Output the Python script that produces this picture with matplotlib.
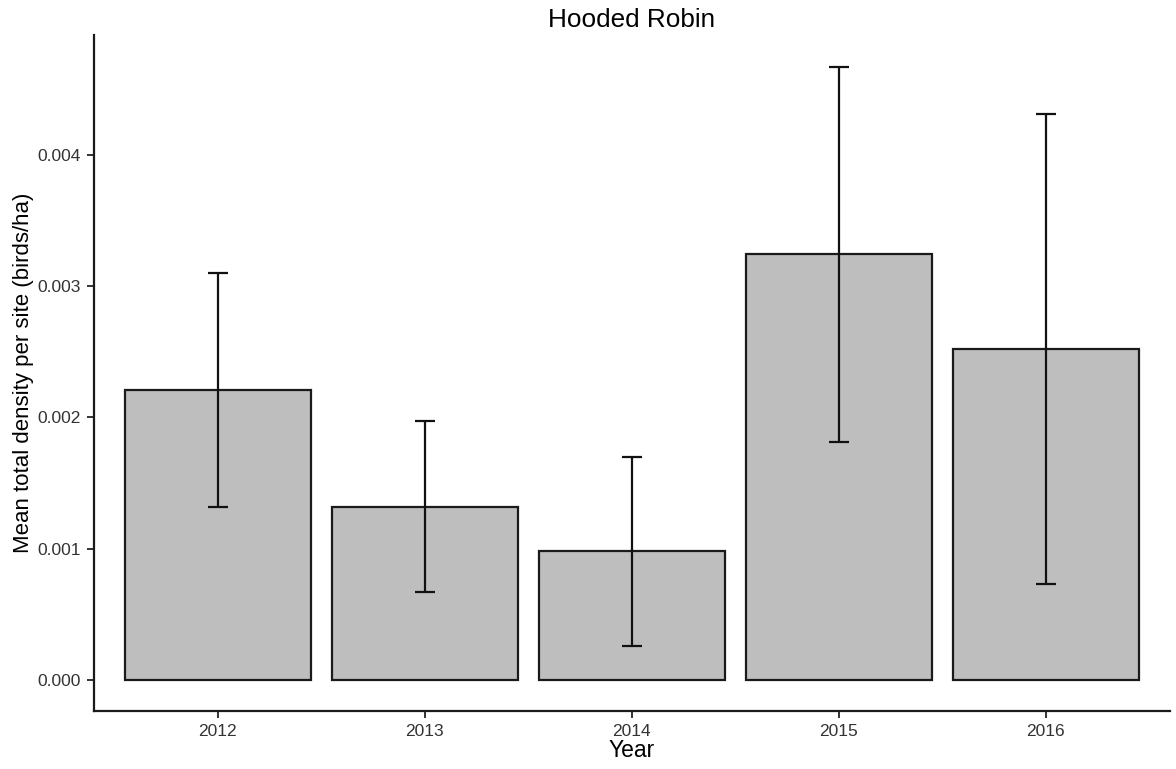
import numpy as np
import matplotlib
matplotlib.use("Agg")
import matplotlib.pyplot as plt

plt.rcParams['font.family'] = ['Liberation Sans', 'DejaVu Sans']

years = ["2012", "2013", "2014", "2015", "2016"]
means = [0.00221, 0.00132, 0.00098, 0.00324, 0.00252]
errs = [0.00089, 0.00065, 0.00072, 0.00143, 0.00179]

fig = plt.figure(figsize=(11.76, 7.69), dpi=100)
ax = fig.add_axes([0.0797, 0.0754, 0.9152, 0.8791])

x = np.arange(len(years))
ax.bar(x, means, width=0.9, color="#bebebe", edgecolor="#1a1a1a", linewidth=1.6, zorder=2)
ax.errorbar(x, means, yerr=errs, fmt="none", ecolor="#111111", elinewidth=1.6,
            capsize=7.5, capthick=1.6, zorder=3)

ax.set_xlim(-0.6, 4.6)
ax.set_ylim(-0.000234, 0.00491)
ax.set_xticks(x)
ax.set_xticklabels(years)
ax.set_yticks([0, 0.001, 0.002, 0.003, 0.004])
ax.set_yticklabels(["0.000", "0.001", "0.002", "0.003", "0.004"])

for s in ["top", "right"]:
    ax.spines[s].set_visible(False)
for s in ["left", "bottom"]:
    ax.spines[s].set_linewidth(1.6)
    ax.spines[s].set_color("#1a1a1a")

ax.tick_params(axis="both", length=5, width=1.4, color="#333333",
               labelsize=12.5, labelcolor="#333333", pad=4)

ax.set_xlabel("Year", fontsize=16.5, labelpad=0)
ax.set_ylabel("Mean total density per site (birds/ha)", fontsize=16, labelpad=3)
ax.set_title("Hooded Robin", fontsize=18.8, pad=6)

fig.savefig("out.png", dpi=100)
